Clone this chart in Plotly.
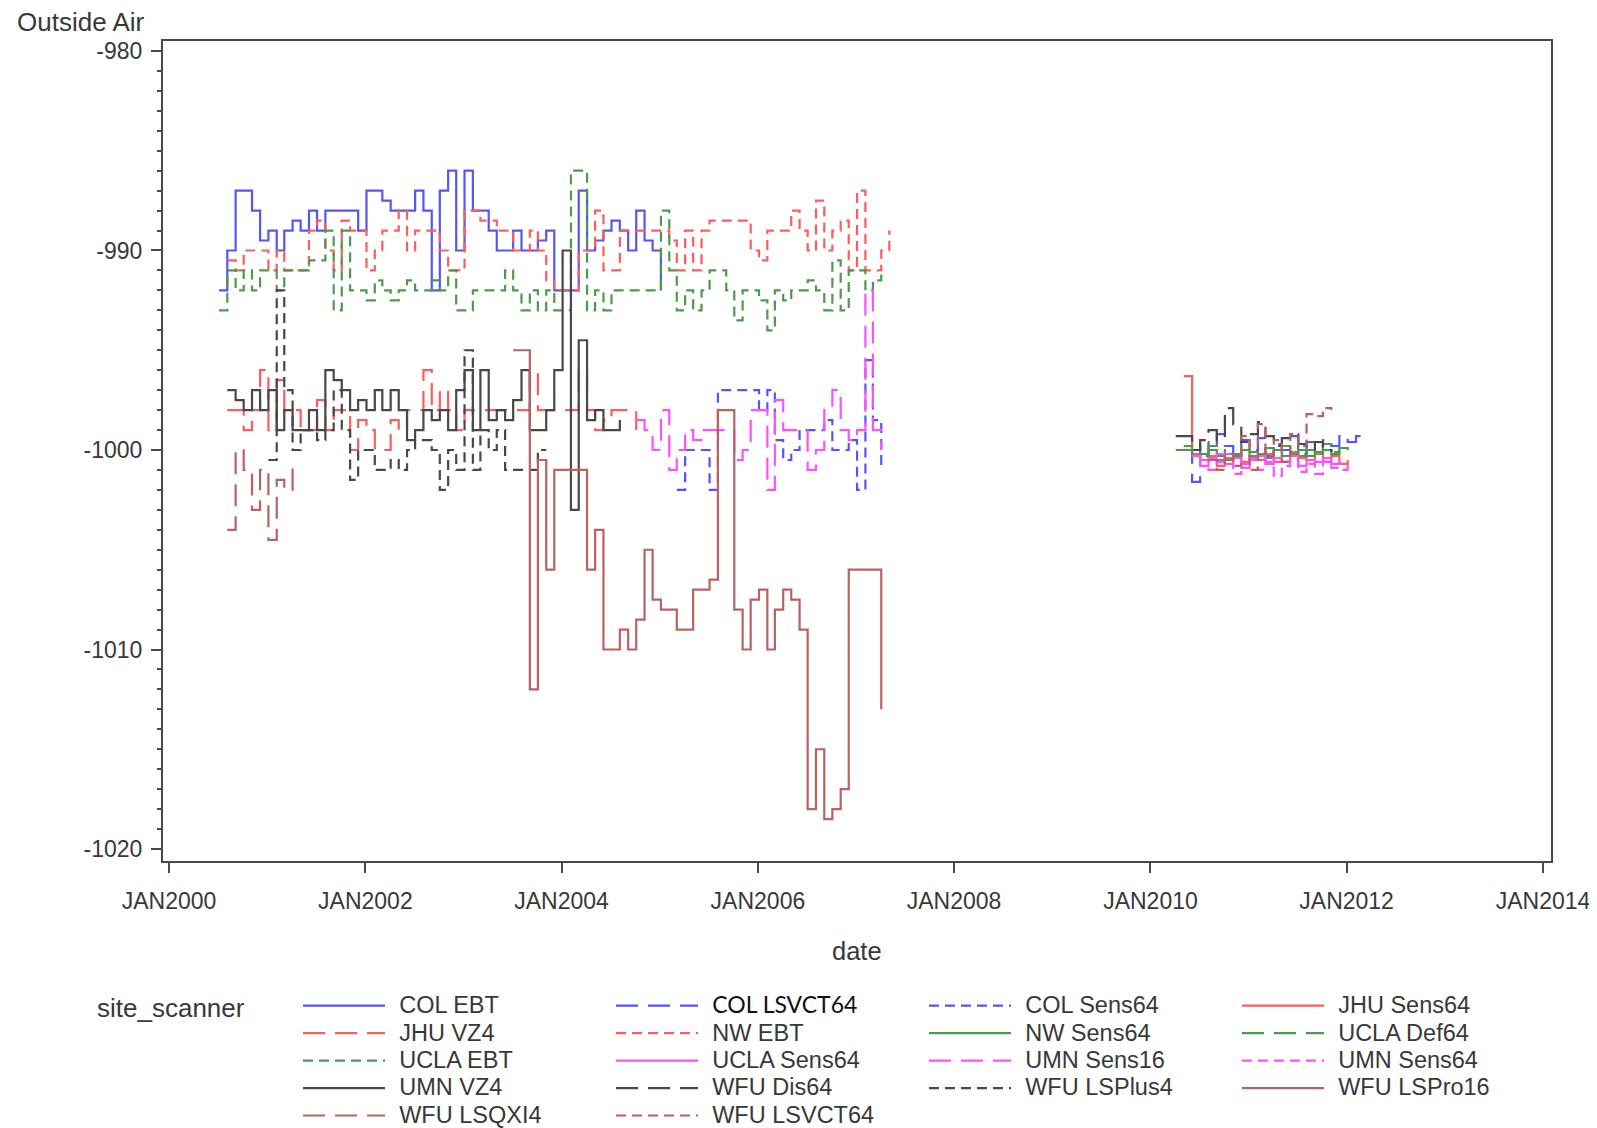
import pandas as pd
import plotly.graph_objects as go

# ---------------- data (monthly means) ----------------
col_ebt_start = "2000-07"
col_ebt = [-992, -990, -987, -987, -988, -989.5, -989, -990, -989, -988.5, -989, -988, -989,
           -988, -988, -988, -988, -989, -987, -987, -987.5, -988, -988, -988, -987, -988,
           -992, -987, -986, -990, -986, -988, -988, -989, -990, -990, -989, -990, -990,
           -989.5, -989, -992, -992, -992, -987, -990, -989.5, -989, -988.5, -989, -990,
           -988, -989.5, -990, -992]

col_lsvct64_start = "2010-05"
col_lsvct64 = [-1000, -1001.6, -999.6, -1000.3, -999.2, -999.8, -1000.2, -999.5, -1000, -999.4,
               -1000.3, -999.7, -1000, -999.3, -1000.2, -999.6, -1000.1, -999.5, -999.8,
               -999.3, -999.6, -999.3, -999.5]

col_sens64_start = "2005-03"
col_sens64 = [-1002, -1000, -1000, -1000, -1002, -997, -997, -997, -997, -997, -998, -997,
              -999.5, -1000.5, -1000, -999, -999, -999, -998.5, -1000, -1000, -999.5, -1002,
              -995.5, -998.5, -1001]

jhu_sens64_start = "2010-05"
jhu_sens64 = [-996.3, -1000.2, -1000.5, -1000.3, -1000.8, -1000.4, -1000.2, -1000.6, -1000.3,
              -1000.5, -1000.2, -1000.6, -1000.3, -1000.1, -1000.4, -1000.5, -1000.2, -1000.6,
              -1000.3, -1000.7, -1000.5]

jhu_vz4_start = "2000-08"
jhu_vz4 = [-998, -998, -999, -998, -996, -999, -996.5, -998, -998, -999, -999, -997.5, -999,
           -998, -998, -1000, -998.5, -999, -1000, -1000, -998.5, -999, -998, -998, -996,
           -998, -997, -998, -999, -998, -998, -998, -998, -998, -998, -998, -998, -996,
           -998, -998, -998, -998, -998, -996, -998, -999, -998.5, -998, -998, -998, -999]

nw_ebt_start = "2000-08"
nw_ebt = [-990.5, -991, -990, -990, -990, -991, -990, -991, -991, -991, -989, -988.5, -990,
          -991, -988.5, -989, -989, -991, -990, -989, -989, -988, -990, -989, -989, -989,
          -990, -991, -991, -988, -988, -988.5, -988.5, -989, -989, -990, -990, -989, -990,
          -991.5, -992, -992, -992, -990, -990, -988, -991, -991, -989, -989, -989, -989,
          -989, -989, -989.5, -991, -989, -991, -989, -988.5, -988.5, -988.5, -988.5,
          -988.5, -990, -990.5, -989, -989, -989, -988, -989, -990, -987.5, -990, -989,
          -988.5, -991, -987, -991, -991, -990, -989]

nw_sens64_start = "2010-04"
nw_sens64 = [-1000, -1000, -1000.3, -1000.2, -1000, -1000.3, -1000.5, -1000.2, -1000, -1000.3,
             -1000.2, -1000.4, -1000, -1000.3, -1000.2, -1000, -1000.3, -1000.1, -1000,
             -1000.2, -999.9, -1000]

ucla_def64_start = "2010-05"
ucla_def64 = [-999.8, -1000, -1000.3, -999.8, -1000.5, -1000, -1000.3, -999.7, -1000.1,
              -1000.4, -999.9, -1000.2, -999.8, -1000.1, -1000.3, -1000, -1000.2, -999.7,
              -1000.1, -1000]

ucla_ebt_start = "2000-07"
ucla_ebt = [-993, -991, -992, -991, -992, -991, -991, -992, -991, -991, -991, -990.5, -990.5,
            -989, -993, -989, -992, -992, -992.5, -991.5, -992, -992.5, -992, -991.5, -992,
            -992, -991.5, -992, -991, -993, -993, -992, -992, -992, -992, -991, -992, -993,
            -992, -993, -992, -993, -993, -986, -986, -993, -992, -993, -992, -992, -992,
            -992, -992, -992, -988, -991, -993, -992, -993, -992, -991, -991, -992, -993.5,
            -992, -992, -992.5, -994, -992, -992.5, -992, -992, -991.5, -992, -993, -990.5,
            -993, -991, -991, -992, -991.5, -991]

ucla_sens64_start = "2010-06"
ucla_sens64 = [-1000.3, -1000.8, -1000.4, -1000.2, -1000.7, -1000.4, -1000.9, -1000.5, -1000.3,
               -1000.7, -1000.4, -1000.6, -1000.3, -1000.8, -1000.5, -1000.6, -1000.4,
               -1000.7, -1000.5]

umn_sens16_start = "2004-10"
umn_sens16 = [-998.5, -999, -1000, -998, -1001, -1000, -999, -999.5, -999, -999, -999, -999,
              -1000.5, -1000, -998, -998, -1002, -997.5, -999, -999, -999, -1001, -1000,
              -998, -997, -999, -999.5, -999, -992, -999, -1000]

umn_sens64_start = "2010-07"
umn_sens64 = [-1000.5, -1001, -1000.6, -1000.2, -1001.2, -1000.7, -1000.4, -1001, -1000.6,
              -1001.3, -1000.8, -1000.5, -1001.1, -1000.7, -1001.2, -1000.6, -1000.9, -1001,
              -1000.6]

umn_vz4_start = "2000-08"
umn_vz4 = [-997, -997.5, -998, -997, -998, -997, -999, -998, -999, -999, -998, -999, -996,
           -996.5, -997, -998, -997.5, -998, -997, -998, -997, -998, -999.5, -999, -998,
           -998.5, -998, -999, -997, -996, -999, -996, -998.5, -998, -998.5, -997.5, -996,
           -999, -999, -998, -996, -990, -1003, -994.5, -998.5, -998, -999, -999, -998.5]

wfu_dis64_start = "2010-04"
wfu_dis64 = [-999.3, -999.3, -1000, -999.5, -999, -999.5, -997.9, -998.7, -999.6, -999.2,
             -998.6, -999.3, -999.8, -999.4, -999.2, -999.7, -1000, -999.6, -999.9, -1000.1]

wfu_lsplus4_start = "2001-01"
wfu_lsplus4 = [-1000.5, -992, -997, -1000, -999, -999, -999.5, -999, -997, -999, -1001.5,
               -1000, -1000, -1001, -1001, -1000.5, -1001, -1000, -999.5, -999.5, -1000,
               -1002, -1000, -1001, -995, -1001, -999, -1000, -999, -1001, -1001, -1001,
               -1001, -1000, -1000]

wfu_lspro16_start = "2003-07"
wfu_lspro16 = [-995, -995, -1012, -1000.5, -1006, -1001, -1001, -1001, -1001, -1006, -1004,
               -1010, -1010, -1009, -1010, -1008.5, -1005, -1007.5, -1008, -1008, -1009,
               -1009, -1007, -1007, -1006.5, -998, -998, -1008, -1010, -1007.5, -1007, -1010,
               -1008, -1007, -1007.5, -1009, -1018, -1015, -1018.5, -1018, -1017, -1006,
               -1006, -1006, -1006, -1013]

wfu_lsqxi4_start = "2000-08"
wfu_lsqxi4 = [-1004, -1000, -1001, -1003, -1001, -1004.5, -1001.5, -1002, -1000.5]

wfu_lsvct64_start = "2010-08"
wfu_lsvct64 = [-1000.5, -1001, -1000.2, -1000.8, -999.3, -1001, -998.7, -1000.3, -999.5,
               -1000.6, -999.2, -999.8, -998.2, -998.3, -997.9, -998]

y_tick_values = [-1020, -1010, -1000, -990, -980]
y_tick_labels = ["-1020", "-1010", "-1000", "-990", "-980"]
x_tick_dates = ["2000-01-01", "2002-01-01", "2004-01-01", "2006-01-01",
                "2008-01-01", "2010-01-01", "2012-01-01", "2014-01-01"]
x_tick_labels = ["JAN2000", "JAN2002", "JAN2004", "JAN2006",
                 "JAN2008", "JAN2010", "JAN2012", "JAN2014"]

# ---------------- styling ----------------
FONT = "Liberation Sans, Arial, sans-serif"
TXT = "#383838"
AX = "#4a4a4a"
BLUE, RED, GREEN = "#5555ff", "#ff5c5c", "#4c9a4c"
MAGENTA, BLACK, BROWN = "#ff50ff", "#484848", "#b96262"
SOLID, LONG, SHORT = "solid", "22px,10px", "10px,6px"


def month_dates(start, n):
    return pd.date_range(start=start + "-01", periods=n, freq="MS") + pd.Timedelta(days=4)


series = [
    ("COL EBT", col_ebt_start, col_ebt, BLUE, SOLID),
    ("COL LSVCT64", col_lsvct64_start, col_lsvct64, BLUE, LONG),
    ("COL Sens64", col_sens64_start, col_sens64, BLUE, SHORT),
    ("JHU Sens64", jhu_sens64_start, jhu_sens64, RED, SOLID),
    ("JHU VZ4", jhu_vz4_start, jhu_vz4, RED, LONG),
    ("NW EBT", nw_ebt_start, nw_ebt, RED, SHORT),
    ("NW Sens64", nw_sens64_start, nw_sens64, GREEN, SOLID),
    ("UCLA Def64", ucla_def64_start, ucla_def64, GREEN, LONG),
    ("UCLA EBT", ucla_ebt_start, ucla_ebt, GREEN, SHORT),
    ("UCLA Sens64", ucla_sens64_start, ucla_sens64, MAGENTA, SOLID),
    ("UMN Sens16", umn_sens16_start, umn_sens16, MAGENTA, LONG),
    ("UMN Sens64", umn_sens64_start, umn_sens64, MAGENTA, SHORT),
    ("UMN VZ4", umn_vz4_start, umn_vz4, BLACK, SOLID),
    ("WFU Dis64", wfu_dis64_start, wfu_dis64, BLACK, LONG),
    ("WFU LSPlus4", wfu_lsplus4_start, wfu_lsplus4, BLACK, SHORT),
    ("WFU LSPro16", wfu_lspro16_start, wfu_lspro16, BROWN, SOLID),
    ("WFU LSQXI4", wfu_lsqxi4_start, wfu_lsqxi4, BROWN, LONG),
    ("WFU LSVCT64", wfu_lsvct64_start, wfu_lsvct64, BROWN, SHORT),
]

fig = go.Figure()
for name, start, vals, color, dash in series:
    pad = "<span style='font-size:33px'>\u00a0</span>"
    if name == "COL LSVCT64":
        label = pad + "<span style='font-family:Lato;font-size:23px;color:#111'>" + name + "</span>"
    else:
        label = pad + "<span style='font-size:23.5px'>" + name + "</span>"
    fig.add_trace(go.Scatter(
        x=month_dates(start, len(vals)), y=vals, mode="lines", name=label,
        line=dict(color=color, dash=dash, width=2.2, shape="hv"),
    ))

# the page body adds an 8 px margin, so figure coordinates = window - 8
OFF = 8
W, H = 1597 - OFF, 1128 - OFF
L, R, T, B = 163 - OFF, 1597 - 1551, 41 - OFF, 1128 - 861
pw, ph = W - L - R, H - T - B


def py(win_y):  # window y -> paper y
    return (H - B - (win_y - OFF)) / ph


def px(win_x):  # window x -> paper x
    return (win_x - OFF - L) / pw


fig.update_layout(
    width=W, height=H,
    margin=dict(l=L, r=R, t=T, b=B, autoexpand=False),
    paper_bgcolor="white", plot_bgcolor="white",
    font=dict(family=FONT, color=TXT, size=23),
    showlegend=True,
    legend=dict(
        orientation="h", xref="paper", x=px(298), xanchor="left",
        yref="container", y=1 - (979) / H, yanchor="top",
        font=dict(family=FONT, size=18.8, color=TXT),
        entrywidth=216, entrywidthmode="pixels", itemwidth=82,
        bgcolor="rgba(0,0,0,0)", borderwidth=0, traceorder="normal",
    ),
    xaxis=dict(
        type="date", range=["1999-12-09 16:00", "2014-01-30 19:00"],
        tickmode="array", tickvals=x_tick_dates, ticktext=x_tick_labels,
        ticks="outside", ticklen=10, tickwidth=1.5, tickcolor=AX,
        showline=True, linecolor=AX, linewidth=2, mirror=True,
        showgrid=False, zeroline=False, ticklabelstandoff=8,
        tickfont=dict(family=FONT, size=23, color=TXT),
    ),
    yaxis=dict(
        range=[-1020.6, -979.5],
        tickmode="array", tickvals=y_tick_values, ticktext=y_tick_labels,
        ticks="outside", ticklen=10, tickwidth=1.5, tickcolor=AX,
        minor=dict(ticks="outside", ticklen=4, tickwidth=1.5, tickcolor=AX,
                   dtick=1, tick0=-1020, showgrid=False),
        showline=True, linecolor=AX, linewidth=2, mirror=True,
        showgrid=False, zeroline=False, ticklabelstandoff=4,
        tickfont=dict(family=FONT, size=23, color=TXT),
    ),
    annotations=[
        dict(text="Outside Air", xref="paper", yref="paper",
             x=px(15), y=py(22), xanchor="left", yanchor="middle",
             showarrow=False, font=dict(family=FONT, size=26, color=TXT)),
        dict(text="date", xref="paper", yref="paper",
             x=0.5, y=py(951), xanchor="center", yanchor="middle",
             showarrow=False, font=dict(family=FONT, size=25.5, color=TXT)),
        dict(text="site_scanner", xref="paper", yref="paper",
             x=px(95), y=py(1008), xanchor="left", yanchor="middle",
             showarrow=False, font=dict(family=FONT, size=26, color=TXT)),
    ],
)

fig.write_html("out.html")
